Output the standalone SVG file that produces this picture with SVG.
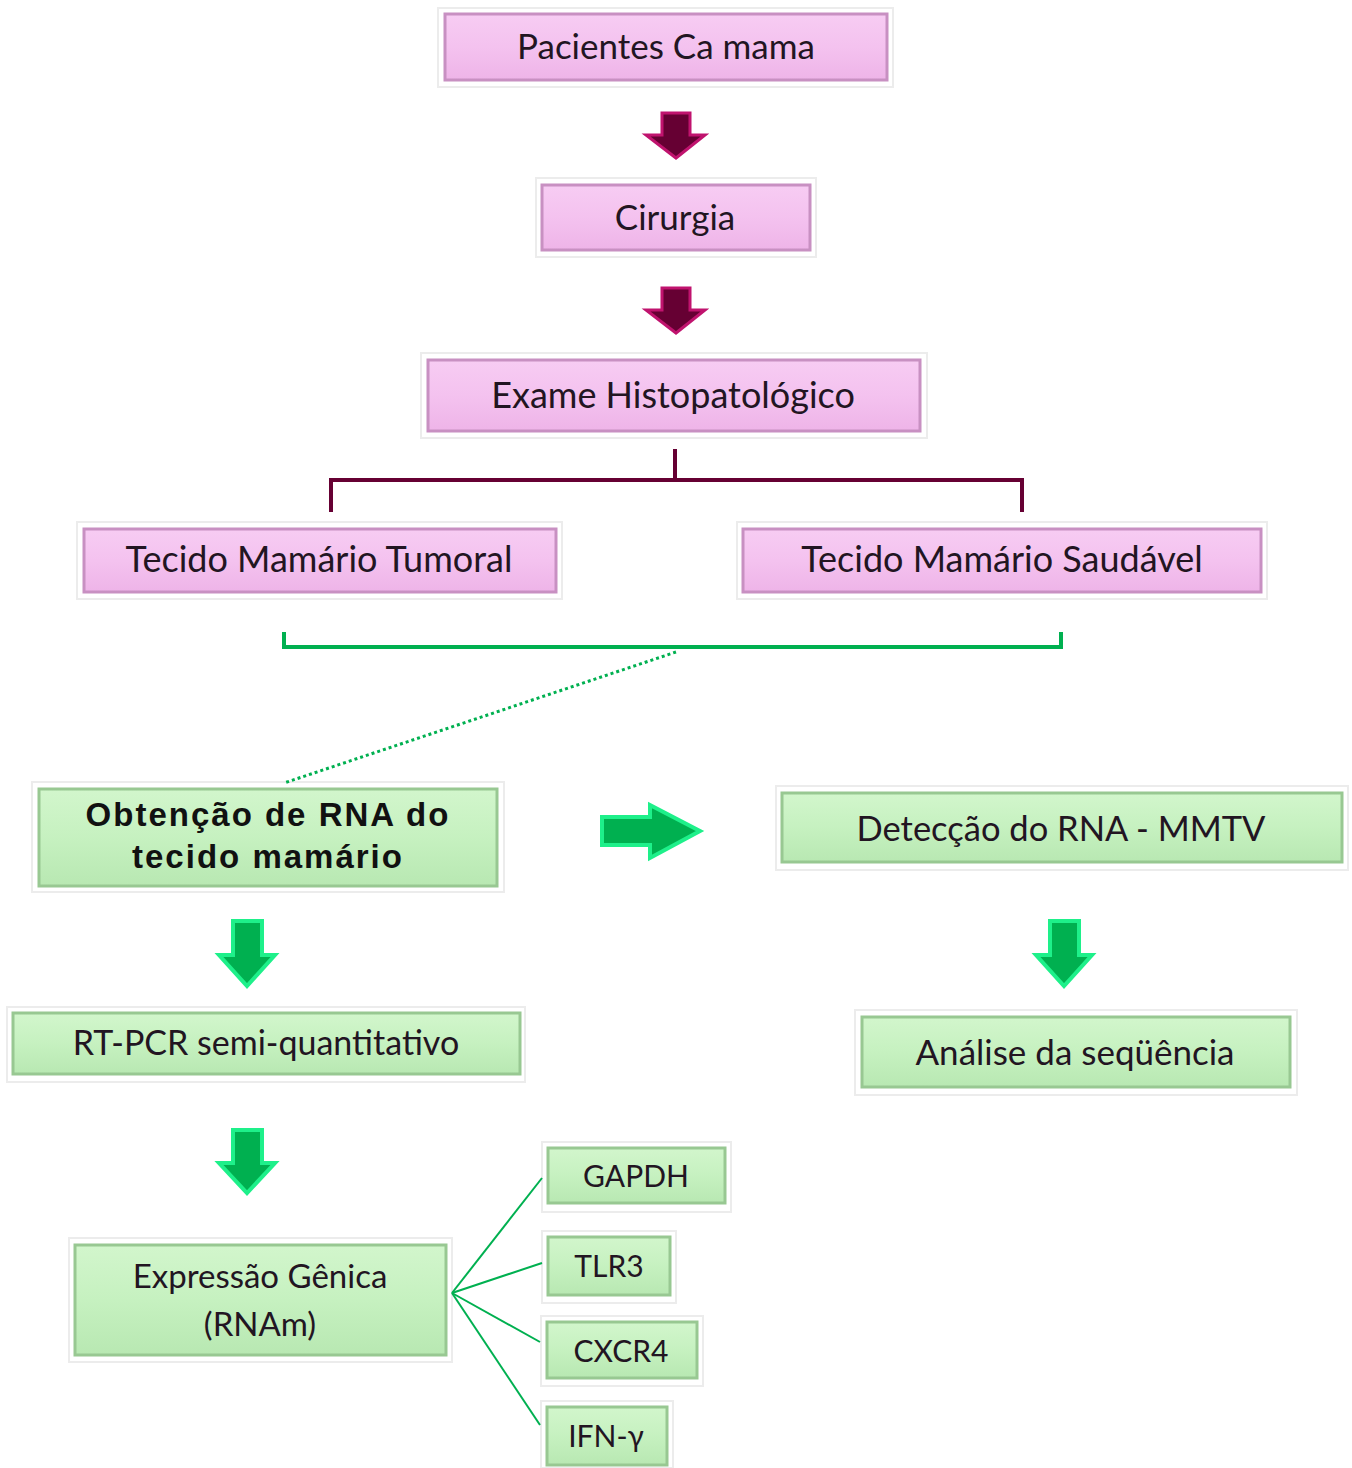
<svg xmlns="http://www.w3.org/2000/svg" width="1352" height="1468" viewBox="0 0 1352 1468">
<defs>
<linearGradient id="gp" x1="0" y1="0" x2="0" y2="1">
<stop offset="0" stop-color="#f7ccf3"/><stop offset="0.5" stop-color="#f4c2ef"/><stop offset="1" stop-color="#eeb4e8"/>
</linearGradient>
<linearGradient id="gg" x1="0" y1="0" x2="0" y2="1">
<stop offset="0" stop-color="#d2f6cc"/><stop offset="0.5" stop-color="#c6f1c0"/><stop offset="1" stop-color="#b8e8b2"/>
</linearGradient>
<style>
.frame{fill:#ffffff;stroke:#ececec;stroke-width:2}
.pk{fill:url(#gp);stroke:#c890c2;stroke-width:3}
.gn{fill:url(#gg);stroke:#98c892;stroke-width:3}
.t{font-family:Lato,"Open Sans","Liberation Sans",sans-serif;fill:#221522;text-anchor:middle}
.tb{font-family:"Liberation Sans",Arial,sans-serif;fill:#111;text-anchor:middle;font-weight:bold}
.mar{fill:#660033;stroke:#c0136e;stroke-width:3;stroke-linejoin:miter}
.grn{fill:#00b050;stroke:#1ef08a;stroke-width:4;stroke-linejoin:miter}
</style>
</defs>
<g id="n1">
<rect class="frame" x="438" y="8" width="455" height="79"/>
<rect class="pk" x="445" y="14" width="442" height="66"/>
<text class="t" x="666" y="59" font-size="35">Pacientes Ca mama</text>
</g>
<g id="n2">
<rect class="frame" x="536" y="178" width="280" height="79"/>
<rect class="pk" x="542" y="185" width="268" height="65"/>
<text class="t" x="675" y="230" font-size="35">Cirurgia</text>
</g>
<g id="n3">
<rect class="frame" x="421" y="353" width="506" height="85"/>
<rect class="pk" x="428" y="360" width="492" height="71"/>
<text class="t" x="673" y="408" font-size="36">Exame Histopatológico</text>
</g>
<g id="n4">
<rect class="frame" x="77" y="522" width="485" height="77"/>
<rect class="pk" x="84" y="529" width="472" height="63"/>
<text class="t" x="319" y="572" font-size="36">Tecido Mamário Tumoral</text>
</g>
<g id="n5">
<rect class="frame" x="737" y="522" width="530" height="77"/>
<rect class="pk" x="743" y="529" width="518" height="63"/>
<text class="t" x="1002" y="572" font-size="36">Tecido Mamário Saudável</text>
</g>
<g id="n6">
<rect class="frame" x="32" y="782" width="472" height="110"/>
<rect class="gn" x="39" y="789" width="458" height="97"/>
<text class="tb" x="268" y="826" font-size="33" letter-spacing="2">Obtenção de RNA do</text>
<text class="tb" x="268" y="868" font-size="33" letter-spacing="2">tecido mamário</text>
</g>
<g id="n7">
<rect class="frame" x="776" y="786" width="572" height="84"/>
<rect class="gn" x="782" y="793" width="560" height="69"/>
<text class="t" x="1061" y="841" font-size="34.5">Detecção do RNA - MMTV</text>
</g>
<g id="n8">
<rect class="frame" x="7" y="1007" width="518" height="75"/>
<rect class="gn" x="13" y="1013" width="507" height="61"/>
<text class="t" x="266" y="1055" font-size="34">RT-PCR semi-quantitativo</text>
</g>
<g id="n9">
<rect class="frame" x="855" y="1010" width="442" height="85"/>
<rect class="gn" x="862" y="1017" width="428" height="70"/>
<text class="t" x="1075" y="1065" font-size="35">Análise da seqüência</text>
</g>
<g id="n10">
<rect class="frame" x="69" y="1238" width="383" height="124"/>
<rect class="gn" x="75" y="1245" width="371" height="110"/>
<text class="t" x="260" y="1288" font-size="33">Expressão Gênica</text>
<text class="t" x="260" y="1336" font-size="33">(RNAm)</text>
</g>
<g id="n11">
<rect class="frame" x="542" y="1142" width="189" height="70"/>
<rect class="gn" x="548" y="1148" width="177" height="55"/>
<text class="t" x="636" y="1187" font-size="30">GAPDH</text>
</g>
<g id="n12">
<rect class="frame" x="542" y="1231" width="134" height="72"/>
<rect class="gn" x="548" y="1237" width="122" height="58"/>
<text class="t" x="609" y="1277" font-size="30">TLR3</text>
</g>
<g id="n13">
<rect class="frame" x="541" y="1316" width="162" height="70"/>
<rect class="gn" x="547" y="1322" width="150" height="56"/>
<text class="t" x="621" y="1362" font-size="30">CXCR4</text>
</g>
<g id="n14">
<rect class="frame" x="541" y="1401" width="132" height="67"/>
<rect class="gn" x="547" y="1407" width="120" height="58"/>
<text class="t" x="606" y="1447" font-size="30">IFN-γ</text>
</g>
<g id="connectors">
<path class="mar" d="M662,113 H690 V135 H705 L676,158 L646,135 H662 Z"/>
<path class="mar" d="M662,288 H690 V310 H705 L676,333 L646,310 H662 Z"/>
<path d="M675,449 V480 M331,512 V480 H1022 V512" fill="none" stroke="#660033" stroke-width="4"/>
<path d="M284,632 V647 H1061 V632" fill="none" stroke="#00b050" stroke-width="4"/>
<path d="M676,652 L284,783" fill="none" stroke="#00b050" stroke-width="3" stroke-dasharray="3,3"/>
<path class="grn" d="M602,817 H650 V805 L700,831 L650,858 V845 H602 Z"/>
<path class="grn" d="M233,921 H262 V955 H275 L247,986 L219,955 H233 Z"/>
<path class="grn" d="M233,1130 H262 V1163 H275 L247,1193 L219,1163 H233 Z"/>
<path class="grn" d="M1050,921 H1079 V955 H1092 L1064,986 L1036,955 H1050 Z"/>
<g fill="none" stroke="#00b050" stroke-width="2">
<path d="M452,1293 L542,1178"/>
<path d="M452,1293 L542,1263"/>
<path d="M452,1293 L540,1342"/>
<path d="M452,1293 L540,1425"/>
</g>
</g>
</svg>
